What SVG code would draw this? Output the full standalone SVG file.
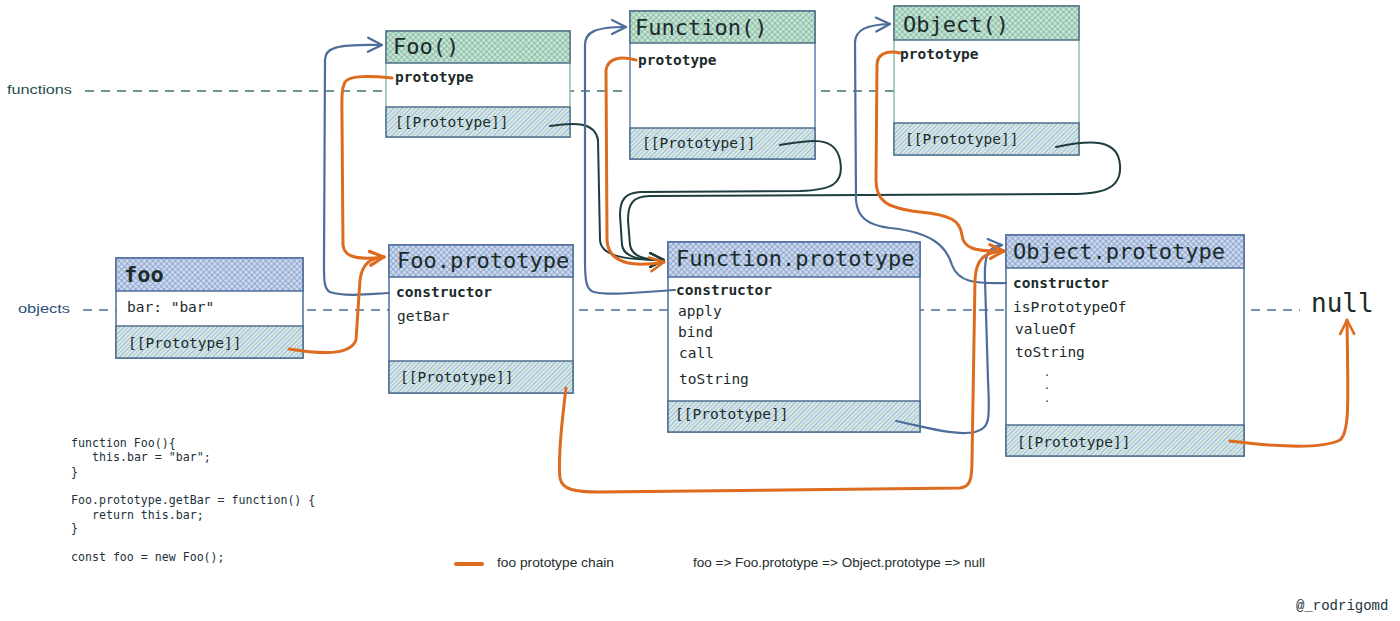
<svg xmlns="http://www.w3.org/2000/svg" width="1400" height="621" viewBox="0 0 1400 621">
<style>
.bg{fill:#ffffff}
.body{fill:#ffffff;stroke-width:1.5}
.hdrG{fill:url(#hg);stroke:#4f6f86;stroke-width:1.5}
.hdrB{fill:url(#hb);stroke:#4d6d9a;stroke-width:1.5}
.ftr{fill:url(#fh);stroke:#4f6f8e;stroke-width:1.5}
.t{font-family:"DejaVu Sans Mono","Liberation Mono",monospace;font-size:22px;fill:#1b2b2b}
.p{font-family:"DejaVu Sans Mono","Liberation Mono",monospace;font-size:14.5px;fill:#1b2b2b}
.dot{font-family:"DejaVu Sans Mono","Liberation Mono",monospace;font-size:10px;fill:#1b2b2b}
.b{font-weight:bold}
.code{font-family:"DejaVu Sans Mono","Liberation Mono",monospace;font-size:11.6px;fill:#22313a}
.hand{font-family:"Liberation Sans","DejaVu Sans",sans-serif;font-size:13px}
.dashF{stroke:#3f7272;stroke-width:1.3;stroke-dasharray:9 7;fill:none}
.dashO{stroke:#4d6d9a;stroke-width:1.3;stroke-dasharray:9 7;fill:none}
.cO{fill:none;stroke:#dd6b20;stroke-width:3;stroke-linecap:round;stroke-linejoin:round}
.cB{fill:none;stroke:#4d6d9a;stroke-width:2.2;stroke-linecap:round;stroke-linejoin:round}
.cD{fill:none;stroke:#1f3d3f;stroke-width:2;stroke-linecap:round;stroke-linejoin:round}
</style>
<defs>
<pattern id="hg" width="4" height="4" patternUnits="userSpaceOnUse" patternTransform="rotate(45)">
<rect width="4" height="4" fill="#c6e4d4"/>
<line x1="0" y1="0" x2="0" y2="4" stroke="#62a088" stroke-width="1"/>
<line x1="0" y1="0" x2="4" y2="0" stroke="#62a088" stroke-width="1"/>
</pattern>
<pattern id="hb" width="4" height="4" patternUnits="userSpaceOnUse" patternTransform="rotate(45)">
<rect width="4" height="4" fill="#cbd8ee"/>
<line x1="0" y1="0" x2="0" y2="4" stroke="#6686b8" stroke-width="1"/>
<line x1="0" y1="0" x2="4" y2="0" stroke="#6686b8" stroke-width="1"/>
</pattern>
<pattern id="fh" width="6" height="6" patternUnits="userSpaceOnUse" patternTransform="rotate(45)">
<rect width="6" height="6" fill="#eef4f6"/>
<line x1="1" y1="0" x2="1" y2="6" stroke="#7c9fd0" stroke-width="1.1"/>
<line x1="4" y1="0" x2="4" y2="6" stroke="#86c2a4" stroke-width="1.1"/>
</pattern>
<marker id="aO" markerWidth="20" markerHeight="20" refX="16" refY="9" orient="auto" markerUnits="userSpaceOnUse"><path d="M2,2 L16,9 L2,16" fill="none" stroke="#dd6b20" stroke-width="2.6" stroke-linecap="round" stroke-linejoin="round"/></marker>
<marker id="aB" markerWidth="20" markerHeight="20" refX="16" refY="9" orient="auto" markerUnits="userSpaceOnUse"><path d="M2,2 L16,9 L2,16" fill="none" stroke="#4d6d9a" stroke-width="2.2" stroke-linecap="round" stroke-linejoin="round"/></marker>
<marker id="aD" markerWidth="20" markerHeight="20" refX="16" refY="9" orient="auto" markerUnits="userSpaceOnUse"><path d="M2,2 L16,9 L2,16" fill="none" stroke="#1f3d3f" stroke-width="2" stroke-linecap="round" stroke-linejoin="round"/></marker>
</defs>
<rect class="bg" x="0" y="0" width="1400" height="621"/>

<g id="lanes">
<line class="dashF" x1="85" y1="91" x2="894" y2="91"/>
<text class="hand" x="7" y="94" fill="#1f4f4f" textLength="65" lengthAdjust="spacingAndGlyphs">functions</text>
<line class="dashO" x1="83" y1="310" x2="1300" y2="310"/>
<text class="hand" x="18" y="313" fill="#2c4f7c" textLength="52" lengthAdjust="spacingAndGlyphs">objects</text>
</g>

<g id="node-Foo">
<rect class="body" x="386" y="31" width="184" height="106" stroke="#8cc2a6"/>
<rect class="hdrG" x="386" y="31" width="184" height="32"/>
<rect class="ftr" x="386" y="107" width="184" height="30"/>
<text class="t" x="393" y="54">Foo()</text>
<text class="p b" x="395" y="82">prototype</text>
<text class="p" x="395" y="127">[[Prototype]]</text>
</g>

<g id="node-Function">
<rect class="body" x="630" y="11" width="185" height="148" stroke="#5f7fae"/>
<rect class="hdrG" x="630" y="11" width="185" height="32"/>
<rect class="ftr" x="630" y="128" width="185" height="31"/>
<text class="t" x="635" y="35">Function()</text>
<text class="p b" x="638" y="65">prototype</text>
<text class="p" x="642" y="148">[[Prototype]]</text>
</g>

<g id="node-Object">
<rect class="body" x="894" y="6" width="185" height="149" stroke="#8cc2a6"/>
<rect class="hdrG" x="894" y="6" width="185" height="34"/>
<rect class="ftr" x="894" y="123" width="185" height="32"/>
<text class="t" x="903" y="32">Object()</text>
<text class="p b" x="900" y="59">prototype</text>
<text class="p" x="905" y="144">[[Prototype]]</text>
</g>

<g id="node-foo">
<rect class="body" x="116" y="258" width="187" height="100" stroke="#4d6d9a"/>
<rect class="hdrB" x="116" y="258" width="187" height="33"/>
<rect class="ftr" x="116" y="326" width="187" height="32"/>
<text class="t b" x="124" y="282">foo</text>
<text class="p" x="127" y="312">bar: "bar"</text>
<text class="p" x="128" y="348">[[Prototype]]</text>
</g>

<g id="node-FooPrototype">
<rect class="body" x="389" y="245" width="184" height="148" stroke="#4d6d9a"/>
<rect class="hdrB" x="389" y="245" width="184" height="32"/>
<rect class="ftr" x="389" y="361" width="184" height="32"/>
<text class="t" x="397" y="268">Foo.prototype</text>
<text class="p b" x="396" y="297">constructor</text>
<text class="p" x="397" y="321">getBar</text>
<text class="p" x="400" y="382">[[Prototype]]</text>
</g>

<g id="node-FunctionPrototype">
<rect class="body" x="668" y="242" width="252" height="190" stroke="#4d6d9a"/>
<rect class="hdrB" x="668" y="242" width="252" height="35"/>
<rect class="ftr" x="668" y="401" width="252" height="31"/>
<text class="t" x="676" y="266">Function.prototype</text>
<text class="p b" x="676" y="295">constructor</text>
<text class="p" x="678" y="316">apply</text>
<text class="p" x="678" y="337">bind</text>
<text class="p" x="679" y="358">call</text>
<text class="p" x="679" y="384">toString</text>
<text class="p" x="675" y="419">[[Prototype]]</text>
</g>

<g id="node-ObjectPrototype">
<rect class="body" x="1006" y="235" width="238" height="221" stroke="#4d6d9a"/>
<rect class="hdrB" x="1006" y="235" width="238" height="33"/>
<rect class="ftr" x="1006" y="425" width="238" height="31"/>
<text class="t" x="1013" y="259">Object.prototype</text>
<text class="p b" x="1013" y="288">constructor</text>
<text class="p" x="1013" y="312">isPrototypeOf</text>
<text class="p" x="1015" y="334">valueOf</text>
<text class="p" x="1015" y="357">toString</text>
<text class="dot" x="1044" y="376">.</text>
<text class="dot" x="1044" y="389">.</text>
<text class="dot" x="1044" y="402">.</text>
<text class="p" x="1017" y="447">[[Prototype]]</text>
</g>

<g id="node-null">
<text class="t" x="1311" y="312" style="font-size:26px">null</text>
</g>

<g id="connectors">
<path class="cD" marker-end="url(#aD)" d="M550,126 C575,122 595,122 598,140 L600,240 C601,255 620,260 664,260"/>
<path class="cD" marker-end="url(#aD)" d="M780,145 C810,140 835,135 840,160 C845,185 830,190 800,191 L640,192 C625,193 620,200 620,215 L622,245 C624,258 640,260 664,260"/>
<path class="cD" marker-end="url(#aD)" d="M1056,147 C1090,140 1118,138 1120,165 C1122,190 1100,194 1070,194 L650,196 C632,196 628,205 628,220 L630,245 C632,257 645,260 664,260"/>
<path class="cB" marker-end="url(#aB)" d="M389,293 C370,294 345,297 330,292 C324,289 324,280 324,265 L325,60 C325,48 335,44 382,45"/>
<path class="cB" marker-end="url(#aB)" d="M675,290 C640,292 610,296 594,292 C586,290 585,280 585,260 L585,45 C585,32 595,27 626,27"/>
<path class="cB" marker-end="url(#aB)" d="M1006,283 C975,284 958,282 952,265 C946,245 930,232 890,228 C865,225 857,215 856,200 L855,42 C856,30 865,25 890,24"/>
<path class="cB" marker-end="url(#aB)" d="M896,421 C930,428 955,436 975,432 C990,428 990,420 988,380 L985,280 C984,255 988,246 1002,245"/>
<path class="cO" marker-end="url(#aO)" d="M289,349 C320,354 350,356 356,340 L360,280 C362,264 370,258 384,257"/>
<path class="cO" marker-end="url(#aO)" d="M392,78 C370,76 350,75 345,82 C341,90 342,100 342,120 L343,245 C344,258 360,260 384,257"/>
<path class="cO" marker-end="url(#aO)" d="M636,60 C620,56 608,58 606,70 L607,240 C608,262 630,268 664,262"/>
<path class="cO" marker-end="url(#aO)" d="M900,53 C885,50 877,55 877,65 L876,180 C876,200 885,208 920,212 C950,215 960,220 962,235 C963,248 975,252 1004,251"/>
<path class="cO" marker-end="url(#aO)" d="M566,388 C562,420 558,460 560,478 C562,490 575,492 600,492 L960,488 C970,487 972,480 972,460 L975,280 C976,258 985,252 1004,251"/>
<path class="cO" marker-end="url(#aO)" d="M1230,441 C1270,446 1320,450 1340,440 C1350,432 1348,400 1347,320"/>
</g>

<g id="code">
<text class="code" x="71" y="447">function Foo(){</text>
<text class="code" x="92" y="461">this.bar = "bar";</text>
<text class="code" x="71" y="476">}</text>
<text class="code" x="71" y="504">Foo.prototype.getBar = function() {</text>
<text class="code" x="92" y="519">return this.bar;</text>
<text class="code" x="71" y="532">}</text>
<text class="code" x="71" y="561">const foo = new Foo();</text>
</g>

<g id="legend">
<line x1="456" y1="564" x2="482" y2="564" stroke="#dd6b20" stroke-width="4" stroke-linecap="round"/>
<text class="hand" x="497" y="567" fill="#1e2d2d" font-size="11" textLength="117" lengthAdjust="spacingAndGlyphs">foo prototype chain</text>
<text class="hand" x="693" y="567" fill="#1e2d2d" font-size="11" textLength="292" lengthAdjust="spacingAndGlyphs">foo =&gt; Foo.prototype =&gt; Object.prototype =&gt; null</text>
<text x="1296" y="610" font-family="'Liberation Mono',monospace" font-size="14" fill="#22313a">@_rodrigomd</text>
</g>
</svg>
